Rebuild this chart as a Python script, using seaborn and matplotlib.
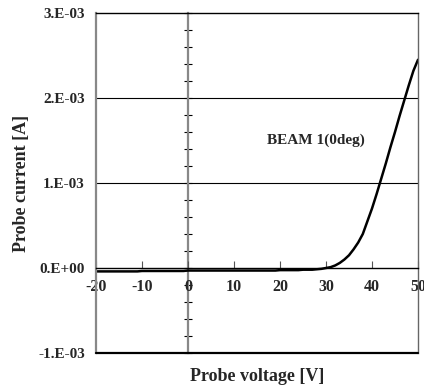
import matplotlib
matplotlib.use("Agg")
import matplotlib.pyplot as plt
import seaborn as sns
import numpy as np
import pandas as pd
from matplotlib.ticker import MultipleLocator

# ---- data ----
voltage = list(range(-20, 51))
current = ([-0.04, -0.04, -0.04, -0.04, -0.04, -0.04, -0.04, -0.04, -0.04, -0.04,
            -0.035, -0.035, -0.035, -0.035, -0.035, -0.035, -0.035, -0.035, -0.035, -0.035,
            -0.03, -0.03, -0.03, -0.03, -0.03, -0.03, -0.03, -0.03, -0.03, -0.03,
            -0.03, -0.03, -0.03, -0.03, -0.03, -0.03, -0.03, -0.03, -0.03, -0.03,
            -0.025, -0.025, -0.025, -0.025, -0.025, -0.02, -0.02, -0.02, -0.015,
            -0.01, 0.0, 0.01, 0.03, 0.06, 0.10, 0.15, 0.22, 0.30, 0.40, 0.55,
            0.70, 0.87, 1.05, 1.23, 1.42, 1.60, 1.79, 1.97, 2.15, 2.32, 2.45])
current = [c * 1e-3 for c in current]
x_ticks = [-20, -10, 0, 10, 20, 30, 40, 50]
y_ticks = [-1e-3, 0.0, 1e-3, 2e-3, 3e-3]
y_tick_labels = ["-1.E-03", "0.E+00", "1.E-03", "2.E-03", "3.E-03"]
annotation = "BEAM 1(0deg)"

df = pd.DataFrame({"V": voltage, "I": current})

sns.set_theme(style="white")
plt.rcParams['font.family'] = ['Liberation Serif', 'DejaVu Serif']
plt.rcParams['font.weight'] = 'bold'

fig = plt.figure(figsize=(4.24, 3.87), dpi=100)
ax = fig.add_axes([96/424, 1 - 353/387, (418-96)/424, (353-13)/387])

sns.lineplot(data=df, x="V", y="I", ax=ax, color="black", linewidth=1.8)

ax.set_xlim(-20, 50)
ax.set_ylim(-1e-3, 3e-3)

# gridlines
for yv in [1e-3, 2e-3]:
    ax.axhline(yv, color="black", linewidth=0.8, zorder=0)
ax.axhline(-1e-3, color="black", linewidth=1.6, zorder=3, clip_on=False)

# x axis at y = 0
ax.spines['bottom'].set_position(('data', 0))
ax.spines['bottom'].set_color('black')
ax.spines['bottom'].set_linewidth(1.0)
ax.set_xticks(x_ticks)
ax.set_xticklabels([str(t) for t in x_ticks])
ax.tick_params(axis='x', direction='in', length=5, width=0.8, color='#555555',
               labelsize=11.5, pad=8, bottom=True)

# frame
ax.spines['left'].set_color('#888888')
ax.spines['left'].set_linewidth(1.6)
ax.spines['right'].set_color('#666666')
ax.spines['right'].set_linewidth(1.0)
ax.spines['top'].set_color('black')
ax.spines['top'].set_linewidth(1.0)

ax.set_yticks(y_ticks)
ax.set_yticklabels(y_tick_labels)
ax.tick_params(axis='y', length=0, labelsize=11, pad=8, left=True)

# y axis at x = 0
sec = ax.secondary_yaxis(20/70)
sec.spines['left'].set_color('#888888')
sec.spines['left'].set_linewidth(1.6)
sec.yaxis.set_major_locator(MultipleLocator(1e-3))
sec.yaxis.set_minor_locator(MultipleLocator(2e-4))
sec.tick_params(axis='y', which='both', direction='inout', length=6, width=0.8,
                color='black', labelleft=False)

ax.text(27.8, 1.5e-3, annotation, ha='center', va='center', fontsize=11,
        fontweight='bold')

ax.set_xlabel("Probe voltage [V]", fontsize=13, fontweight='bold', labelpad=0)
ax.xaxis.set_label_coords(0.5, -0.045)
ax.set_ylabel("Probe current [A]", fontsize=13, fontweight='bold')
ax.yaxis.set_label_coords(-0.205, 0.5)

fig.savefig("out.png", dpi=100)
